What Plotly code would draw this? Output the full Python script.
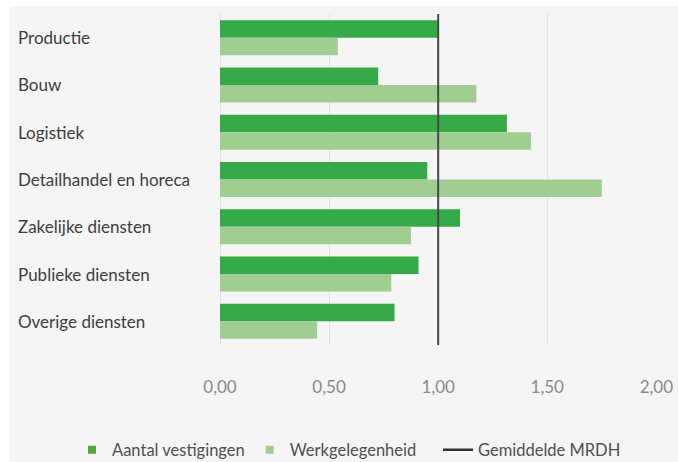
import plotly.graph_objects as go

categories = ["Productie", "Bouw", "Logistiek", "Detailhandel en horeca",
              "Zakelijke diensten", "Publieke diensten", "Overige diensten"]
vestigingen = [1.00, 0.725, 1.315, 0.95, 1.10, 0.91, 0.80]
werkgelegenheid = [0.54, 1.175, 1.425, 1.75, 0.875, 0.785, 0.445]
gemiddelde = 1.0
tick_vals = [0, 0.5, 1.0, 1.5, 2.0]

W, H = 678, 462
ML, MR, MT, MB = 220, 21, 14, 117
pw = W - ML - MR
ph = H - MT - MB

def px_x(p):
    return (p - ML) / pw

def px_y(p):
    return (H - MB - p) / ph

font_family = "Lato, 'Open Sans', sans-serif"
dark = "#36aa49"
light = "#a0cd91"
legend_dark = "#52a835"

fig = go.Figure()
fig.add_trace(go.Bar(y=categories, x=vestigingen, orientation="h",
                     name="Aantal vestigingen", marker_color=dark,
                     marker_line_width=0, showlegend=False))
fig.add_trace(go.Bar(y=categories, x=werkgelegenheid, orientation="h",
                     name="Werkgelegenheid", marker_color=light,
                     marker_line_width=0, showlegend=False))
# legend entries
fig.add_trace(go.Scatter(x=[None], y=[None], mode="markers",
                         name="Aantal vestigingen", legend="legend",
                         marker=dict(symbol="square", size=8, color=legend_dark)))
fig.add_trace(go.Scatter(x=[None], y=[None], mode="markers",
                         name="Werkgelegenheid", legend="legend",
                         marker=dict(symbol="square", size=8, color=light)))
fig.add_trace(go.Scatter(x=[None], y=[None], mode="lines",
                         name="Gemiddelde MRDH", legend="legend2",
                         line=dict(color="#333333", width=2.5)))

fig.add_shape(type="rect", xref="paper", yref="paper",
              x0=px_x(9), x1=px_x(W + 5), y0=px_y(H + 5), y1=px_y(6),
              fillcolor="#f5f5f5", line_width=0, layer="below")
fig.add_shape(type="line", xref="x", yref="paper",
              x0=gemiddelde, x1=gemiddelde, y0=0, y1=1,
              line=dict(color="#4a4a4a", width=2))

for c in categories:
    fig.add_annotation(x=px_x(16), xref="paper", y=c, yref="y",
                       text=c, showarrow=False, xanchor="left",
                       font=dict(size=17, color="#404040", family=font_family))

legend_common = dict(orientation="h", xref="container", yref="container",
                     y=1 - 450 / H, yanchor="middle",
                     font=dict(size=16.5, color="#505050", family=font_family),
                     bgcolor="rgba(0,0,0,0)", itemwidth=30)

fig.update_layout(
    width=W, height=H,
    margin=dict(l=ML, r=MR, t=MT, b=MB, autoexpand=False),
    paper_bgcolor="white",
    plot_bgcolor="rgba(0,0,0,0)",
    barmode="group",
    bargap=0.26,
    bargroupgap=0,
    separators=",.",
    font=dict(family=font_family),
    showlegend=True,
    legend=dict(x=72 / W, xanchor="left", **legend_common),
    legend2=dict(x=438 / W, xanchor="left", **legend_common),
    xaxis=dict(range=[0, 2.003], tickvals=tick_vals, tickformat=".2f",
               automargin=False,
               showgrid=True, gridcolor="#e2e2e2", gridwidth=1,
               zeroline=True, zerolinecolor="#e2e2e2", zerolinewidth=1,
               ticks="outside", ticklen=27, tickcolor="rgba(0,0,0,0)",
               tickfont=dict(size=17, color="#8a8a8a", family=font_family),
               showline=False),
    yaxis=dict(autorange="reversed", showticklabels=False, showgrid=False,
               automargin=False,
               zeroline=False, showline=False, ticks=""),
)

fig.write_html("out.html", config={"displayModeBar": False},
               post_script="document.body.style.margin='0px';document.body.style.padding='0px';")
